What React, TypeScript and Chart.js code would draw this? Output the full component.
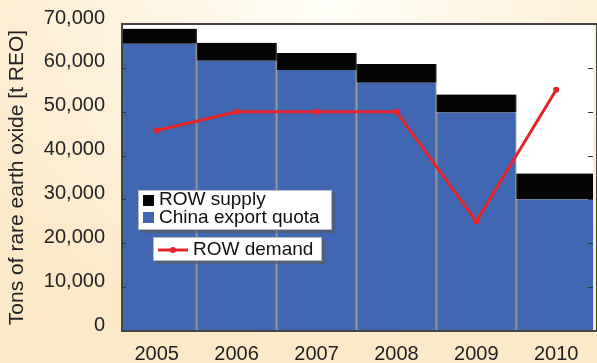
import React, { useEffect, useRef } from "react";
import { Chart, registerables } from "chart.js";

Chart.register(...registerables);

const years = ["2005", "2006", "2007", "2008", "2009", "2010"];
const chinaQuota = [65500, 61600, 59500, 56600, 49800, 30000];
const rowSupply = [3400, 4100, 3900, 4300, 4100, 5900];
const rowDemand = [45700, 50000, 50000, 50000, 25000, 55000];
const yTicks = [0, 10000, 20000, 30000, 40000, 50000, 60000, 70000];

const BLUE = "#4267b2";
const BLACK = "#050505";
const RED = "#e4262c";
const FONT = "'Liberation Sans', Arial, Helvetica, sans-serif";

const framePlugin = {
  id: "framePlugin",
  beforeDatasetsDraw(chart: any) {
    const { ctx, chartArea } = chart;
    ctx.save();
    ctx.fillStyle = "#ffffff";
    ctx.fillRect(chartArea.left, chartArea.top, chartArea.right - chartArea.left, chartArea.bottom - chartArea.top);
    ctx.restore();
  },
  afterDatasetsDraw(chart: any) {
    const { ctx, chartArea, scales } = chart;
    const y = scales.y;
    ctx.save();
    ctx.strokeStyle = "#333";
    ctx.lineWidth = 1;
    yTicks.forEach((v) => {
      const py = Math.round(y.getPixelForValue(v)) + 0.5;
      ctx.beginPath();
      ctx.moveTo(chartArea.left, py);
      ctx.lineTo(chartArea.left + 4, py);
      ctx.moveTo(chartArea.right, py);
      ctx.lineTo(chartArea.right - 5, py);
      ctx.stroke();
    });
    ctx.strokeStyle = "#444";
    ctx.lineWidth = 2;
    ctx.strokeRect(chartArea.left, chartArea.top, chartArea.right - chartArea.left + 4, chartArea.bottom - chartArea.top);
    ctx.restore();
  },
  afterDraw(chart: any) {
    const { ctx } = chart;
    const ds = chart.data.datasets;
    ctx.save();
    ctx.font = `19px ${FONT}`;
    ctx.textBaseline = "middle";
    const drawBox = (x: number, y: number, w: number, h: number) => {
      ctx.fillStyle = "rgba(90,90,90,0.55)";
      ctx.fillRect(x + 3, y + 3, w, h);
      ctx.fillStyle = "#ffffff";
      ctx.fillRect(x, y, w, h);
      ctx.strokeStyle = "#bbb";
      ctx.lineWidth = 1;
      ctx.strokeRect(x + 0.5, y + 0.5, w - 1, h - 1);
    };
    drawBox(138, 190, 194, 40);
    ctx.fillStyle = BLACK;
    ctx.fillRect(143, 195, 11, 11);
    ctx.fillStyle = BLUE;
    ctx.fillRect(143, 212, 11, 11);
    ctx.fillStyle = "#111";
    ctx.fillText(ds[1].label, 159, 200);
    ctx.fillText(ds[0].label, 159, 218);
    drawBox(153, 237, 169, 24);
    ctx.strokeStyle = RED;
    ctx.lineWidth = 3;
    ctx.beginPath();
    ctx.moveTo(158, 250);
    ctx.lineTo(188, 250);
    ctx.stroke();
    ctx.fillStyle = RED;
    ctx.beginPath();
    ctx.arc(173, 250, 3, 0, Math.PI * 2);
    ctx.fill();
    ctx.fillStyle = "#111";
    ctx.fillText(ds[2].label, 193, 250);
    ctx.restore();
  },
};

export default function App() {
  const ref = useRef<HTMLCanvasElement>(null);

  useEffect(() => {
    if (!ref.current) return;
    const chart = new Chart(ref.current, {
      type: "bar",
      data: {
        datasets: [
          {
            type: "bar",
            label: "China export quota",
            data: chinaQuota.map((v, i) => ({ x: i, y: v })),
            backgroundColor: BLUE,
            borderColor: "#8c8c8c",
            borderWidth: { left: 1.5, right: 1.5, top: 0, bottom: 0 },
            borderSkipped: false,
            stack: "supply",
            barPercentage: 1,
            categoryPercentage: 1,
            order: 2,
          } as any,
          {
            type: "bar",
            label: "ROW supply",
            data: rowSupply.map((v, i) => ({ x: i, y: v })),
            backgroundColor: BLACK,
            borderColor: "#222",
            borderWidth: { left: 1.5, right: 1.5, top: 0, bottom: 0 },
            borderSkipped: false,
            stack: "supply",
            barPercentage: 1,
            categoryPercentage: 1,
            order: 2,
          } as any,
          {
            type: "line",
            label: "ROW demand",
            data: rowDemand.map((v, i) => ({ x: i, y: v })),
            borderColor: RED,
            backgroundColor: RED,
            borderWidth: 3,
            pointRadius: 3,
            pointBackgroundColor: RED,
            pointBorderWidth: 0,
            stack: "demand",
            order: 1,
          } as any,
        ],
      },
      options: {
        responsive: false,
        animation: false,
        layout: { padding: { top: 24, right: 0, left: 0, bottom: 0 } },
        plugins: { legend: { display: false }, tooltip: { enabled: false } },
        scales: {
          x: {
            type: "linear",
            min: -0.434,
            max: 5.46,
            offset: false,
            grid: { display: false, drawTicks: false },
            border: { display: false },
            ticks: {
              stepSize: 1,
              includeBounds: false,
              autoSkip: false,
              maxRotation: 0,
              padding: 11,
              color: "#222",
              font: { family: FONT, size: 20 },
              callback: (v: any) => (Number.isInteger(v) && years[v] !== undefined ? years[v] : ""),
            },
            afterFit: (s: any) => {
              s.height = 32;
              s.paddingLeft = 0;
              s.paddingRight = 0;
            },
          },
          y: {
            stacked: true,
            min: 0,
            max: 70000,
            grid: { display: false, drawTicks: false },
            border: { display: false },
            ticks: {
              stepSize: 10000,
              padding: 17,
              labelOffset: -6,
              color: "#222",
              font: { family: FONT, size: 20 },
              callback: (v: any) => Number(v).toLocaleString("en-US"),
            },
            title: {
              display: true,
              text: "Tons of rare earth oxide [t REO]",
              color: "#222",
              font: { family: FONT, size: 21 },
              padding: { top: 5, bottom: 0 },
            },
            afterFit: (s: any) => {
              s.width = 122;
              s.paddingTop = 0;
              s.paddingBottom = 0;
            },
          },
        },
      } as any,
      plugins: [framePlugin],
    });
    return () => chart.destroy();
  }, []);

  return (
    <div
      style={{
        position: "fixed",
        left: 0,
        top: 0,
        width: 597,
        height: 363,
        overflow: "hidden",
        background:
          "radial-gradient(ellipse 70% 95% at 55% 0%, #fffef8 0%, #fef5e3 40%, #fce9c8 100%)",
      }}
    >
      <canvas ref={ref} width={597} height={363} style={{ display: "block" }} />
    </div>
  );
}
